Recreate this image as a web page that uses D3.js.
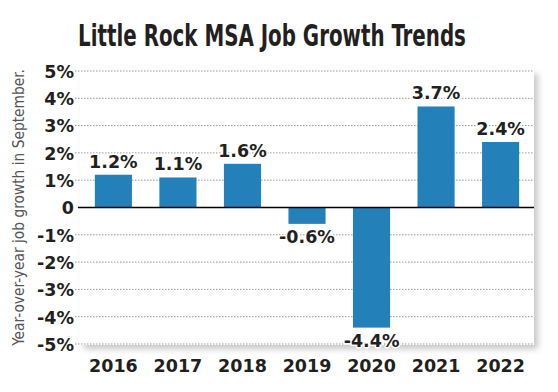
<!DOCTYPE html>
<html>
<head>
<meta charset="utf-8">
<script src="https://cdn.jsdelivr.net/npm/d3@7"></script>
<style>
  html, body { margin: 0; padding: 0; background: #fff; }
  svg { display: block; }
</style>
</head>
<body>
<svg id="chart" width="558" height="392"></svg>
<script>
const years = ["2016", "2017", "2018", "2019", "2020", "2021", "2022"];
const growth = [1.2, 1.1, 1.6, -0.6, -4.4, 3.7, 2.4];
const yTicks = [5, 4, 3, 2, 1, 0, -1, -2, -3, -4, -5];
const yTickLabels = ["5%", "4%", "3%", "2%", "1%", "0", "-1%", "-2%", "-3%", "-4%", "-5%"];
const titleText = "Little Rock MSA Job Growth Trends";
const yTitle = "Year-over-year job growth in September.";

const svg = d3.select("#chart");
const plot = { left: 80, right: 534, top: 70, bottom: 345 };
const ink = "#231f20";
const barColor = "#2480b8";
const labelFont = "'DejaVu Sans', sans-serif";

const x = d3.scaleBand().domain(years).range([plot.left, plot.right])
  .paddingInner(0.425).paddingOuter(0.23);
const y = d3.scaleLinear().domain([-5, 5]).range([344, 71]);

// shadow filter
const defs = svg.append("defs");
const f = defs.append("filter").attr("id", "shadow")
  .attr("x", "-5%").attr("y", "-5%").attr("width", "115%").attr("height", "120%");
f.append("feDropShadow").attr("dx", 4).attr("dy", 4).attr("stdDeviation", 3)
  .attr("flood-color", "#000").attr("flood-opacity", 0.22);

// title: tall condensed look via horizontal scale
const titleG = svg.append("g");
const title = titleG.append("text")
  .attr("x", 0).attr("y", 0)
  .attr("text-anchor", "middle")
  .attr("font-family", "'DejaVu Sans Condensed', 'DejaVu Sans', sans-serif")
  .attr("font-weight", "bold")
  .attr("font-size", 31)
  .attr("fill", ink)
  .text(titleText);
const tw = title.node().getComputedTextLength();
const sx = Math.min(1, 388 / tw);
titleG.attr("transform", `translate(272,46) scale(${sx.toFixed(3)},1)`);

// panel
svg.append("rect")
  .attr("x", plot.left).attr("y", plot.top)
  .attr("width", plot.right - plot.left).attr("height", plot.bottom - plot.top)
  .attr("fill", "#fff")
  .attr("filter", "url(#shadow)");

// gridlines
svg.append("g").selectAll("line")
  .data(yTicks.filter(d => d !== 0))
  .join("line")
  .attr("x1", plot.left - 5).attr("x2", plot.right)
  .attr("y1", d => y(d)).attr("y2", d => y(d))
  .attr("stroke", "#9a9a9a")
  .attr("stroke-width", 1)
  .attr("stroke-dasharray", "1.5,1.5");

// y axis labels
const yAxis = d3.axisLeft(y).tickValues(yTicks)
  .tickFormat((d, i) => yTickLabels[i]).tickSize(0).tickPadding(0);
const gy = svg.append("g").attr("transform", `translate(${plot.left - 6},0)`).call(yAxis);
gy.select(".domain").remove();
gy.selectAll("text")
  .attr("font-family", labelFont)
  .attr("font-weight", "bold")
  .attr("font-size", 17.5)
  .attr("fill", ink)
  .attr("dy", "0.36em");

// bars
svg.append("g").selectAll("rect")
  .data(growth)
  .join("rect")
  .attr("x", (d, i) => x(years[i]))
  .attr("width", x.bandwidth())
  .attr("y", d => y(Math.max(0, d)))
  .attr("height", d => Math.abs(y(d) - y(0)))
  .attr("fill", barColor);

// zero line
svg.append("line")
  .attr("x1", plot.left - 2).attr("x2", plot.right)
  .attr("y1", y(0)).attr("y2", y(0))
  .attr("stroke", "#000").attr("stroke-width", 1.5);

// value labels
svg.append("g").selectAll("text")
  .data(growth)
  .join("text")
  .attr("x", (d, i) => x(years[i]) + x.bandwidth() / 2)
  .attr("y", d => d >= 0 ? y(d) - 7 : y(d) + 19)
  .attr("text-anchor", "middle")
  .attr("font-family", labelFont)
  .attr("font-weight", "bold")
  .attr("font-size", 17.5)
  .attr("fill", ink)
  .attr("stroke", "#fff")
  .attr("stroke-width", 3)
  .attr("stroke-linejoin", "round")
  .attr("paint-order", "stroke")
  .text(d => d.toFixed(1) + "%");

// x axis labels
const xAxis = d3.axisBottom(x).tickSize(0).tickPadding(0);
const gx = svg.append("g").attr("transform", `translate(0,${plot.bottom + 27})`).call(xAxis);
gx.select(".domain").remove();
gx.selectAll("text")
  .attr("font-family", labelFont)
  .attr("font-weight", "bold")
  .attr("font-size", 17.5)
  .attr("fill", ink)
  .attr("dy", 0);

// y title
const ytG = svg.append("g");
const yt = ytG.append("text")
  .attr("x", 0).attr("y", 0)
  .attr("text-anchor", "middle")
  .attr("font-family", "'DejaVu Sans Condensed', 'DejaVu Sans', sans-serif")
  .attr("font-size", 16)
  .attr("fill", "#555")
  .text(yTitle);
const yw = yt.node().getComputedTextLength();
const ys = Math.min(1, 277 / yw);
ytG.attr("transform", `translate(24,${(plot.top + plot.bottom) / 2}) rotate(-90) scale(${ys.toFixed(3)},1)`);
</script>
</body>
</html>
